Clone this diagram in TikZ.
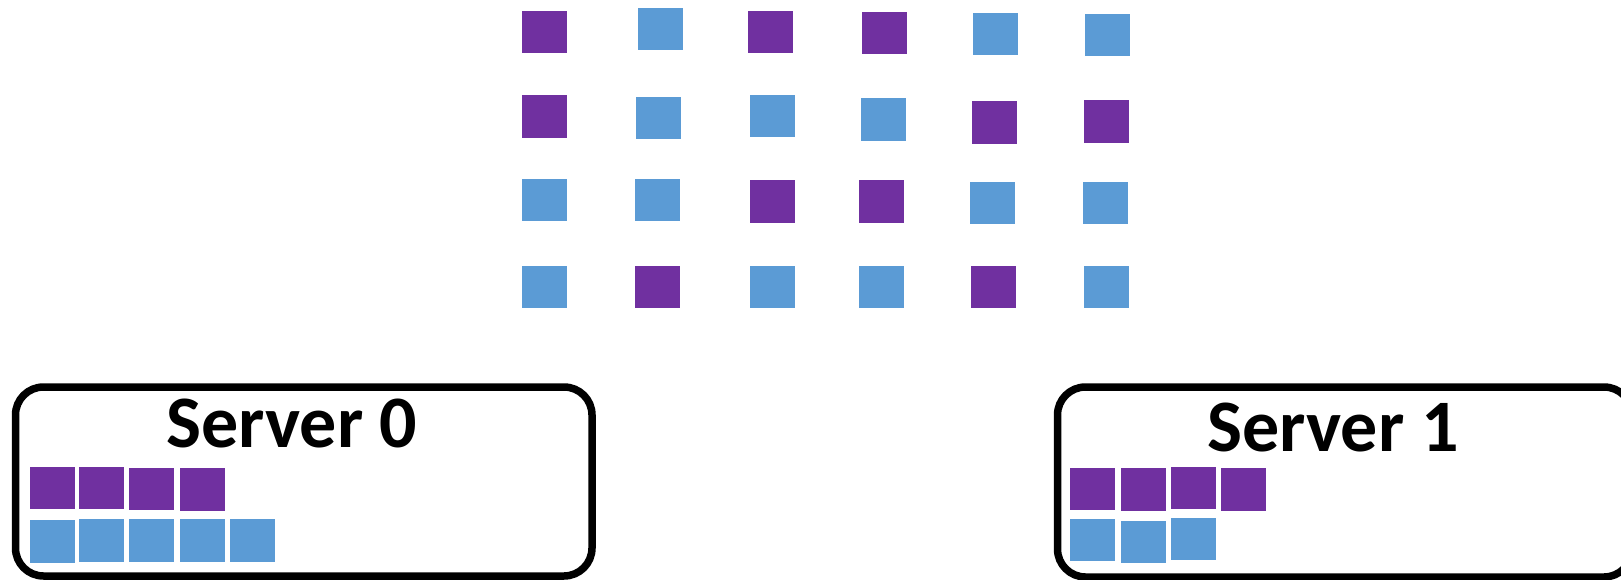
\documentclass[tikz,border=0pt]{standalone}
\usepackage{fontspec}
\setmainfont{Carlito}
\definecolor{cpurple}{HTML}{7030A0}
\definecolor{cblue}{HTML}{5B9BD5}
\begin{document}
\begin{tikzpicture}[x=1pt,y=-1pt,
  sqbase/.style={rectangle,inner sep=0pt,outer sep=0pt,minimum width=45pt,minimum height=42.5pt,draw=none},
  pu/.style={sqbase,fill=cpurple},
  bl/.style={sqbase,fill=cblue},
  serverbox/.style={draw=black,line width=7.5pt,rounded corners=28pt,fill=white},
  title/.style={font=\bfseries\fontsize{74}{82}\selectfont,anchor=base,inner sep=0pt}]
\useasboundingbox (0,0) rectangle (1621,580);
% grid
\node[pu] (r1c1) at (544,32) {};
\node[bl] (r1c2) at (660,29) {};
\node[pu] (r1c3) at (770.5,32) {};
\node[pu] (r1c4) at (884.5,33) {};
\node[bl] (r1c5) at (995.5,34) {};
\node[bl] (r1c6) at (1107.5,35) {};
\node[pu] (r2c1) at (544,116.5) {};
\node[bl] (r2c2) at (658.5,118) {};
\node[bl] (r2c3) at (772.5,116) {};
\node[bl] (r2c4) at (883.5,119.5) {};
\node[pu] (r2c5) at (994.5,122.5) {};
\node[pu] (r2c6) at (1106.5,121.5) {};
\node[bl] (r3c1) at (544.5,200) {};
\node[bl] (r3c2) at (657.5,200) {};
\node[pu] (r3c3) at (772.5,201.5) {};
\node[pu] (r3c4) at (881.5,201.5) {};
\node[bl] (r3c5) at (992,203) {};
\node[bl] (r3c6) at (1105.5,203) {};
\node[bl] (r4c1) at (544,287) {};
\node[pu] (r4c2) at (657.5,287) {};
\node[bl] (r4c3) at (772.5,287) {};
\node[bl] (r4c4) at (881.5,287) {};
\node[pu] (r4c5) at (993.5,287) {};
\node[bl] (r4c6) at (1106.5,287) {};
% server boxes
\draw[serverbox] (15.5,387) rectangle (592,576);
\draw[serverbox] (1057.5,387) rectangle (1632,577);
\node[title] (t0) at (292,447) {Server 0};
\node[title] (t1) at (1333,451) {Server 1};
% server 0 squares
\node[pu] (s0p1) at (52.5,488) {};
\node[pu] (s0p2) at (101.5,488) {};
\node[pu] (s0p3) at (151.5,489) {};
\node[pu] (s0p4) at (202,489.5) {};
\node[bl] (s0b1) at (52.5,541.3) {};
\node[bl] (s0b2) at (101.5,540.7) {};
\node[bl] (s0b3) at (151.5,540.3) {};
\node[bl] (s0b4) at (202,540.3) {};
\node[bl] (s0b5) at (252.5,540.3) {};
% server 1 squares
\node[pu] (s1p1) at (1092,488.8) {};
\node[pu] (s1p2) at (1143,489.5) {};
\node[pu] (s1p3) at (1193,487.8) {};
\node[pu] (s1p4) at (1243,489.5) {};
\node[bl] (s1b1) at (1092,540.2) {};
\node[bl] (s1b2) at (1143,541.8) {};
\node[bl] (s1b3) at (1193,539.2) {};
\end{tikzpicture}
\end{document}
